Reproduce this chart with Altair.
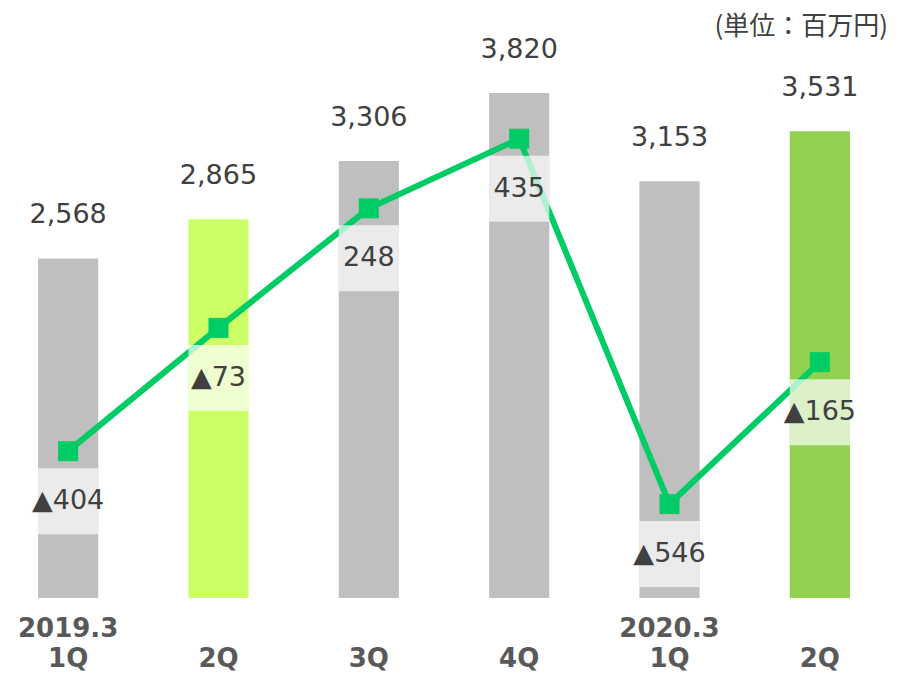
import json
import altair as alt
import pandas as pd

keys = ["0", "1", "2", "3", "4", "5"]
axis_labels = [["2019.3", "1Q"], ["", "2Q"], ["", "3Q"], ["", "4Q"], ["2020.3", "1Q"], ["", "2Q"]]
sales = [2568, 2865, 3306, 3820, 3153, 3531]
profit = [-404, -73, 248, 435, -546, -165]
bar_colors = ["#bfbfbf", "#ccff66", "#bfbfbf", "#bfbfbf", "#bfbfbf", "#92d050"]

df = pd.DataFrame({
    "key": keys,
    "sales": sales,
    "profit": profit,
    "color": bar_colors,
    "plabel": [("▲" + str(abs(v))) if v < 0 else str(v) for v in profit],
})

label_expr = json.dumps(axis_labels).replace('"', "'") + "[toNumber(datum.value)]"

FONT = "DejaVu Sans"
x = alt.X("key:N", sort=None, title=None,
          scale=alt.Scale(paddingInner=0.6, paddingOuter=0.2),
          axis=alt.Axis(labelExpr=label_expr, labelAngle=0, ticks=False, domain=False,
                        labelFont=FONT, labelFontSize=26, labelFontWeight="bold",
                        labelColor="#595959", labelPadding=17, labelLineHeight=30))

ysales = alt.Scale(domain=[0, 4092], nice=False, zero=False)
yprofit = alt.Scale(domain=[-798.3, 654.4], nice=False, zero=False)

base = alt.Chart(df)

bars = base.mark_bar().encode(
    x=x,
    y=alt.Y("sales:Q", scale=ysales, axis=None),
    color=alt.Color("color:N", scale=None),
)
bar_text = base.mark_text(dy=-43, baseline="middle", font=FONT, fontSize=27, color="#404040").encode(
    x=x,
    y=alt.Y("sales:Q", scale=ysales, axis=None),
    text=alt.Text("sales:Q", format=","),
)
line = base.mark_line(color="#00cc66", strokeWidth=6).encode(
    x=x,
    y=alt.Y("profit:Q", scale=yprofit, axis=None),
)
boxes = base.mark_rect(yOffset=17, y2Offset=83, color="white", opacity=0.69).encode(
    x=x,
    y=alt.Y("profit:Q", scale=yprofit, axis=None),
    y2="profit:Q",
)
squares = base.mark_square(size=400, color="#00cc66", opacity=1, filled=True).encode(
    x=x,
    y=alt.Y("profit:Q", scale=yprofit, axis=None),
)
box_text = base.mark_text(dy=50, baseline="middle", font=FONT, fontSize=27, color="#404040").encode(
    x=x,
    y=alt.Y("profit:Q", scale=yprofit, axis=None),
    text="plabel:N",
)

chart = alt.layer(bars, bar_text, line, boxes, squares, box_text).resolve_scale(
    y="independent"
).properties(
    width=872,
    height=541,
    autosize=alt.AutoSizeParams(type="none"),
    padding={"left": 0, "top": 49, "right": 22, "bottom": 75},
    title=alt.TitleParams("(単位：百万円)", anchor="end", orient="top", dx=8, dy=22, offset=18,
                          font="Noto Sans CJK JP", fontSize=26, fontWeight="normal",
                          color="#404040"),
).configure_view(stroke=None)

chart.save("out.html", embed_options={"renderer": "svg", "actions": False})
